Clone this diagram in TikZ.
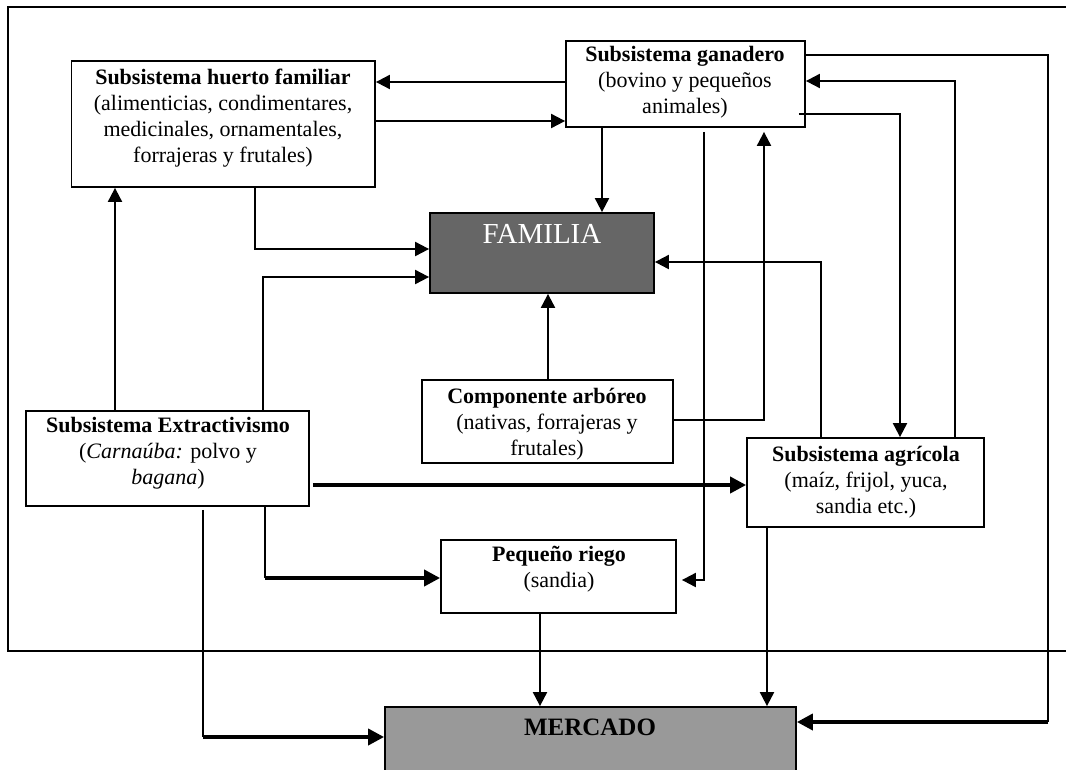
\documentclass[tikz,border=0pt]{standalone}
\usepackage{fontspec}
\setmainfont{Liberation Serif}
\usetikzlibrary{arrows.meta,fit}
\definecolor{famgray}{HTML}{666666}
\definecolor{mergray}{HTML}{999999}
\begin{document}
\begin{tikzpicture}[x=1pt,y=-1pt,
  box/.style={draw, line width=1.8pt, inner sep=0pt, fill=white},
  txt/.style={font=\fontsize{22}{26}\selectfont, align=center, anchor=base, inner sep=0pt},
  ln/.style={line width=2pt},
  arr/.style={ln, -{Triangle[length=14pt,width=14pt]}},
  tarr/.style={line width=3.8pt, -{Triangle[length=16pt,width=16pt]}},
]
\useasboundingbox[fill=white] (0,0) rectangle (1066,769);
% outer frame
\draw[line width=1.5pt] (1066,7) -- (8,7) -- (8,651) -- (1066,651);
% boxes
\node[box, fit={(71.5,61) (375,187)}] (hue) {};
\node[box, fit={(566,41) (805,127)}] (gan) {};
\node[box, fill=famgray, fit={(430,213) (654,293)}] (fam) {};
\node[box, fit={(422,380) (673,463)}] (arb) {};
\node[box, fit={(26,411) (309,506)}] (ext) {};
\node[box, fit={(747,438) (984,527)}] (agr) {};
\node[box, fit={(441,540) (676,613)}] (rie) {};
\node[box, fill=mergray, fit={(385,707) (796,790)}] (mer) {};
% connectors
\draw[arr] (gan.west |- 0,82) -- (hue.east |- 0,82);
\draw[arr] (hue.east |- 0,121) -- (gan.west |- 0,121);
\draw[arr] (hue.south -| 255,0) |- (fam.west |- 0,249);
\draw[arr] (ext.north -| 263,0) |- (fam.west |- 0,277);
\draw[arr] (ext.north -| 115,0) -- (hue.south -| 115,0);
\draw[arr] (gan.south -| 602,0) -- (fam.north -| 602,0);
\draw[arr] (arb.north -| 548,0) -- (fam.south -| 548,0);
\draw[arr, shorten >=4pt] (arb.east |- 0,420) -| (gan.south -| 764,0);
\draw[arr, shorten <=4pt, shorten >=5pt] (gan.south -| 704,0) |- (rie.east |- 0,580);
\draw[arr, shorten <=-7pt] (gan.east |- 0,114) -| (agr.north -| 900,0);
\draw[arr] (agr.north -| 955,0) |- (gan.east |- 0,81);
\draw[arr] (agr.north -| 821,0) |- (fam.east |- 0,262);
\coordinate (rc) at (1048,722);
\draw[ln] (gan.east |- 0,55) -| (rc);
\draw[tarr] (rc) -- (mer.east |- rc);
\coordinate (lc) at (203,737);
\draw[ln, shorten <=3pt] (ext.south -| lc) -- (lc);
\draw[tarr] (lc) -- (mer.west |- lc);
\coordinate (mc) at (265,578);
\draw[ln] (ext.south -| mc) -- (mc);
\draw[tarr] (mc) -- (rie.west |- mc);
\draw[tarr, shorten <=3pt] (ext.east |- 0,485) -- (agr.west |- 0,485);
\draw[arr] (rie.south -| 540,0) -- (mer.north -| 540,0);
\draw[arr] (agr.south -| 767,0) -- (mer.north -| 767,0);
% texts (anchor = baseline of last line)
\node[txt] (huet) at (223,162) {\textbf{Subsistema huerto familiar}\\(alimenticias, condimentares,\\medicinales, ornamentales,\\forrajeras y frutales)};
\node[txt] (gant) at (685,113) {\textbf{Subsistema ganadero}\\(bovino y pequeños\\animales)};
\node[txt] (extt) at (168,484) {\textbf{Subsistema Extractivismo}\\(\textit{Carnaúba:} polvo y\\\textit{bagana})};
\node[txt] (arbt) at (547,455) {\textbf{Componente arbóreo}\\(nativas, forrajeras y\\frutales)};
\node[txt] (agrt) at (866,513) {\textbf{Subsistema agrícola}\\(maíz, frijol, yuca,\\sandia etc.)};
\node[txt] (riet) at (559,587) {\textbf{Pequeño riego}\\(sandia)};
\node[anchor=base, inner sep=0pt, text=white, font=\fontsize{29}{34}\selectfont] (famt) at (542,243) {FAMILIA};
\node[anchor=base, inner sep=0pt, font=\fontsize{25}{30}\selectfont\bfseries] (mert) at (590,735) {MERCADO};
\end{tikzpicture}
\end{document}
